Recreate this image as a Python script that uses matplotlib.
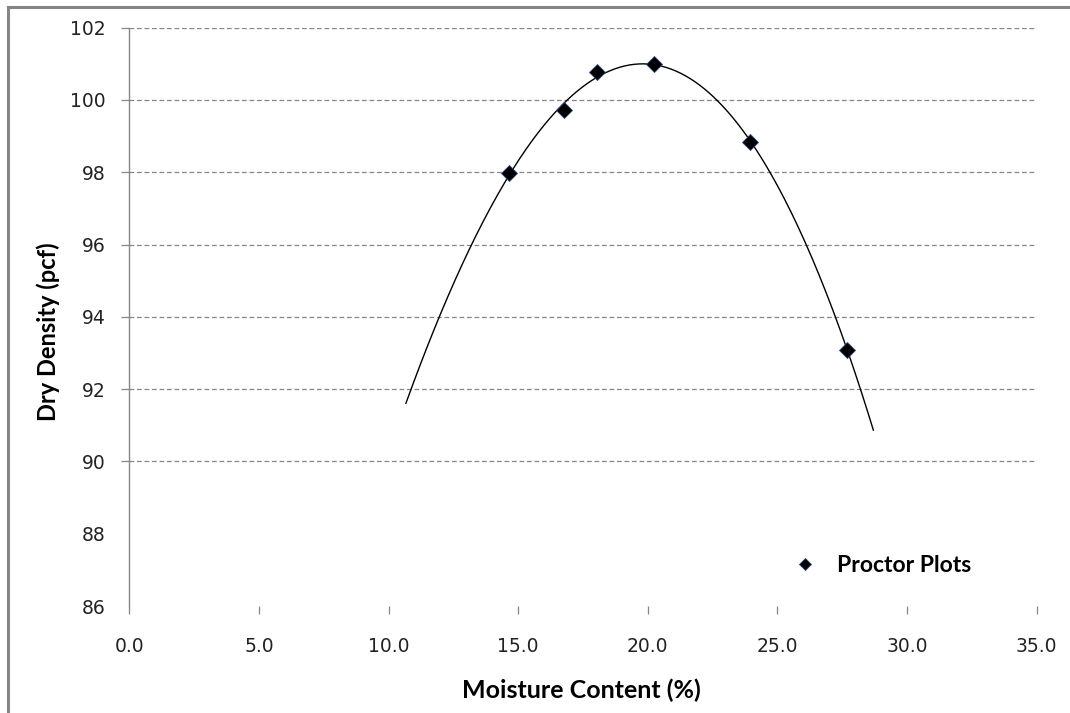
import numpy as np
import matplotlib
matplotlib.use("Agg")
import matplotlib.pyplot as plt
from matplotlib.lines import Line2D

# Data
moisture = [14.65, 16.78, 18.03, 20.25, 23.95, 27.70]
dry_density = [97.97, 99.72, 100.78, 101.00, 98.83, 93.08]
trend_range = [10.67, 28.70]
x_ticks = [0, 5, 10, 15, 20, 25, 30, 35]
y_ticks = [86, 88, 90, 92, 94, 96, 98, 100, 102]
grid_levels = [90, 92, 94, 96, 98, 100, 102]
series_name = "Proctor Plots"
x_title = "Moisture Content (%)"
y_title = "Dry Density (pcf)"

W, H = 1070, 713
fig = plt.figure(figsize=(W / 100, H / 100), dpi=100)
ax_l, ax_r, ax_t, ax_b = 129.3, 1036.7, 27.7, 606
ax = fig.add_axes([ax_l / W, 1 - ax_b / H, (ax_r - ax_l) / W, (ax_b - ax_t) / H])

gray = "#868686"

# gridlines
for g in grid_levels:
    ax.axhline(g, color=gray, lw=0.9, dashes=(3.8, 2.2), zorder=1)

# polynomial trendline
coef = np.polyfit(moisture, dry_density, 3)
xs = np.linspace(trend_range[0], trend_range[1], 200)
ax.plot(xs, np.polyval(coef, xs), color="black", lw=1.0, zorder=2)

ax.plot(moisture, dry_density, linestyle="none", marker="D", markersize=8.2,
        markerfacecolor="black", markeredgecolor="#2c4a78", markeredgewidth=0.6,
        zorder=3, label=series_name)

ax.set_xlim(0, 35)
ax.set_ylim(86, 102)
ax.set_xticks(x_ticks)
ax.set_xticklabels([f"{v:.1f}" for v in x_ticks])
ax.set_yticks(y_ticks)
ax.set_yticklabels([str(v) for v in y_ticks])

for s in ["top", "right", "bottom"]:
    ax.spines[s].set_visible(False)
ax.spines["left"].set_color(gray)
ax.spines["left"].set_linewidth(1.0)

ax.tick_params(axis="y", direction="out", length=6, width=0.9, color=gray,
               labelsize=13.5, pad=11, labelcolor="#222222")
ax.tick_params(axis="x", direction="out", length=6, width=0.9, color=gray,
               labelsize=13.5, pad=16, labelcolor="#222222")
for t, v in zip(ax.yaxis.get_major_ticks(), y_ticks):
    if v < 90:
        t.tick1line.set_visible(False)

leg = ax.legend(loc="center left",
                bbox_to_anchor=((796 - ax_l) / (ax_r - ax_l), (ax_b - 565.5) / (ax_b - ax_t)),
                frameon=False, handlelength=0.8, handletextpad=1.0, markerscale=0.75,
                borderaxespad=0, borderpad=0,
                prop={"family": "Lato", "size": 16.5, "weight": "bold"})

fig.text(581 / W, 1 - 690 / H, x_title, ha="center", va="center",
         fontsize=18, fontweight="bold", family="Lato")
fig.text(48 / W, 1 - 332 / H, y_title, ha="center", va="center", rotation=90,
         fontsize=17, fontweight="bold", family="Lato")

# outer frame (top and left edges visible)
fig.add_artist(Line2D([8 / W, 8 / W], [0, 1 - 6.5 / H], transform=fig.transFigure,
                      color=gray, lw=2.2))
fig.add_artist(Line2D([8 / W, 1], [1 - 6.5 / H, 1 - 6.5 / H], transform=fig.transFigure,
                      color=gray, lw=2.2))

fig.savefig("out.png", dpi=100)
